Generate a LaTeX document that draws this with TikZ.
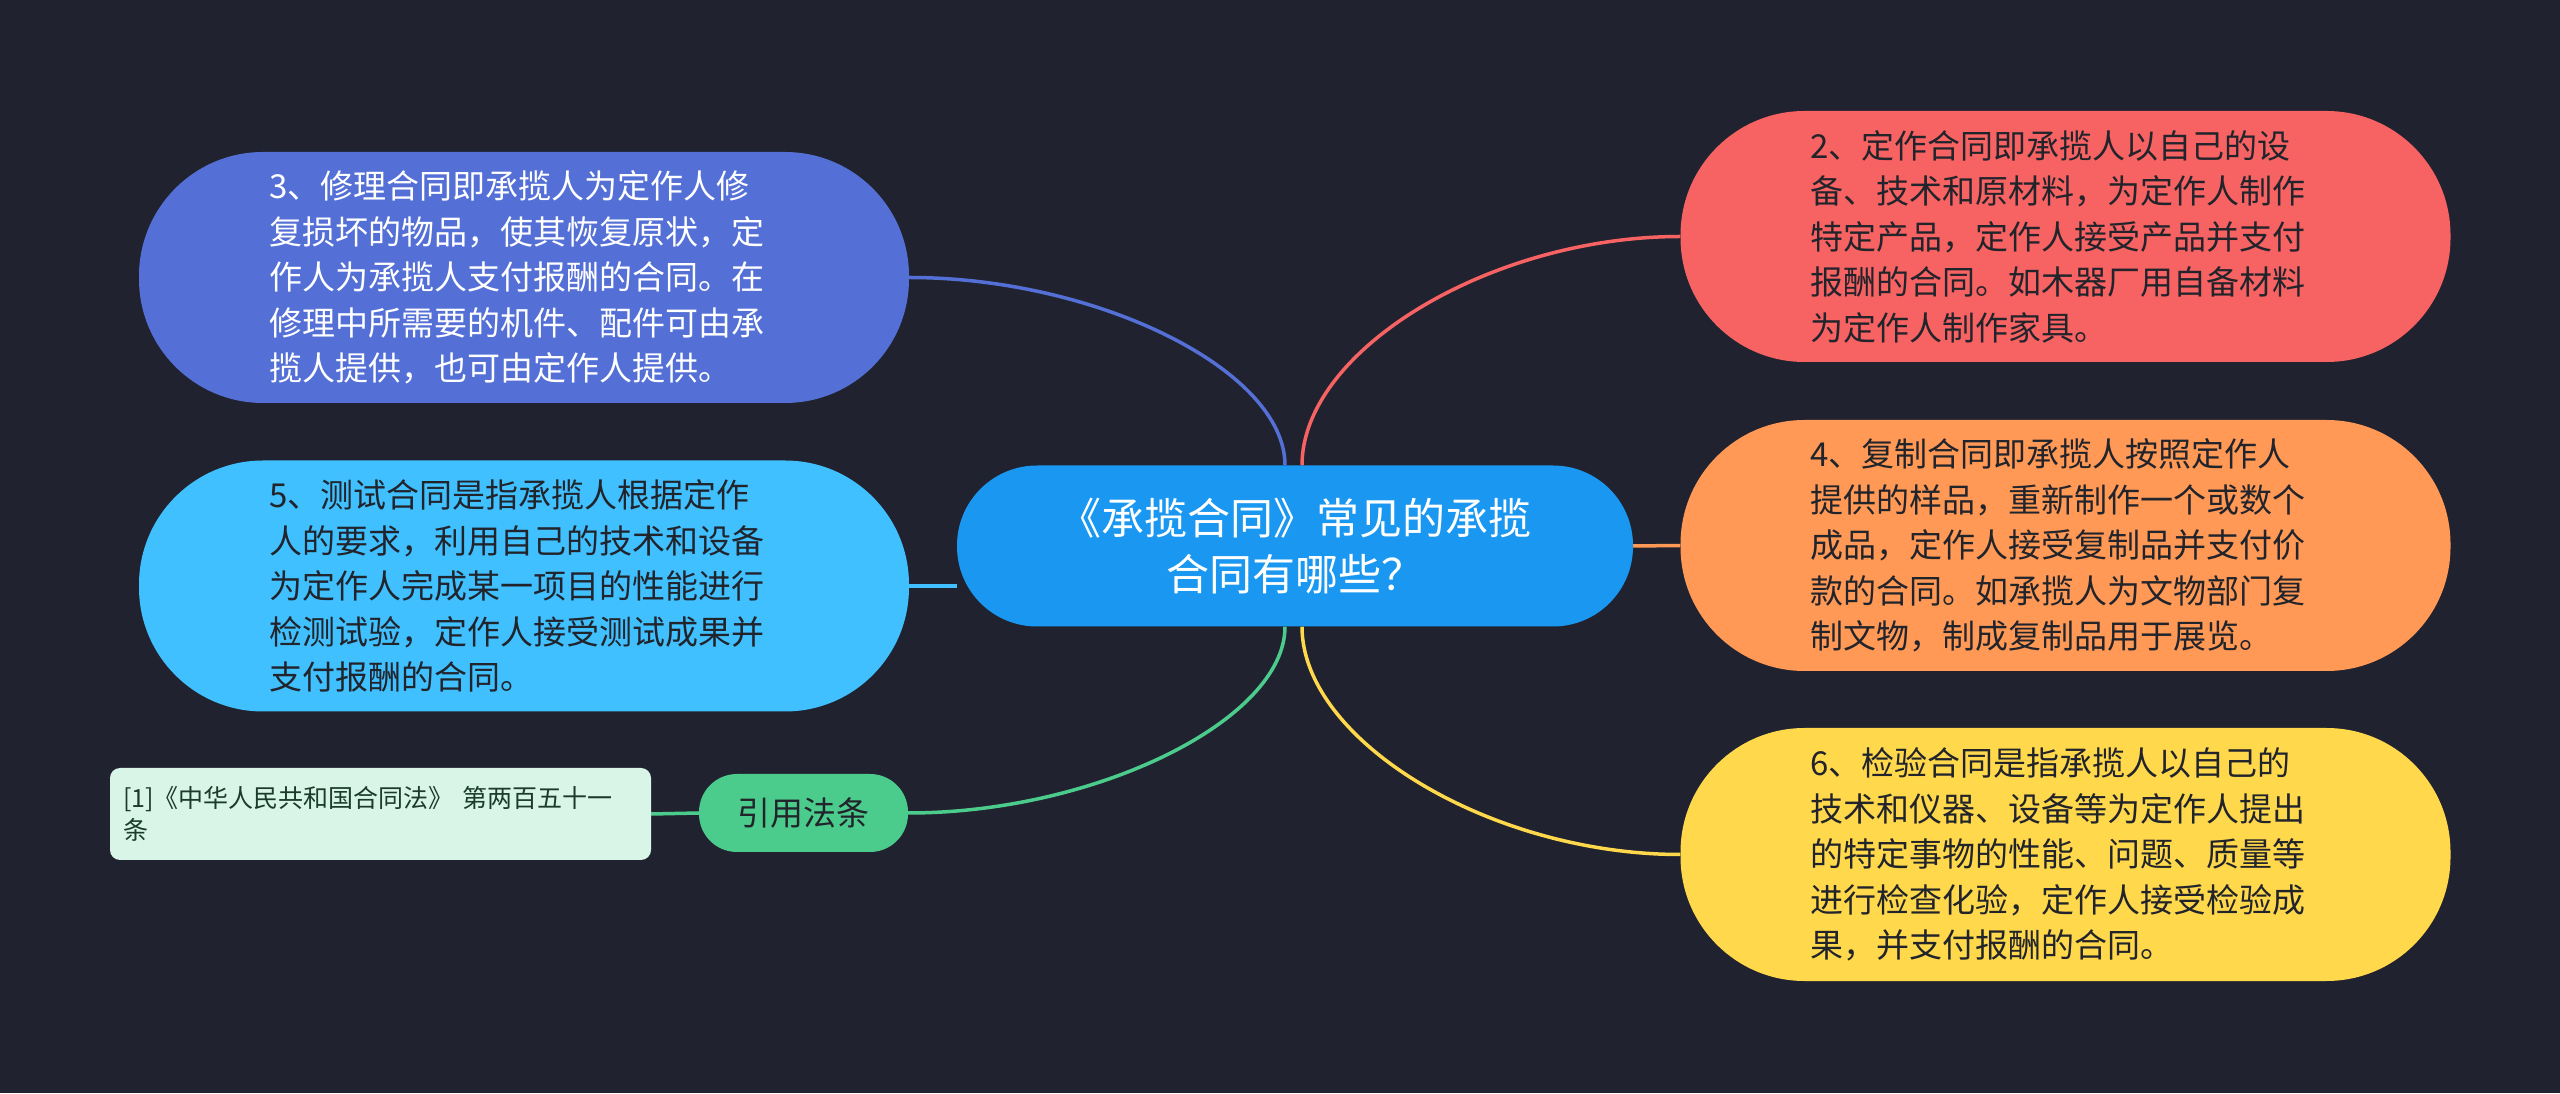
\documentclass[tikz,border=0pt]{standalone}
\usepackage{fontspec}
\setmainfont{Noto Sans CJK SC}
\pgfdeclarelayer{bg}
\pgfdeclarelayer{lines}
\pgfsetlayers{bg,lines,main}
\definecolor{bgc}{HTML}{20232F}
\definecolor{cblue}{HTML}{1A97F0}
\definecolor{pblue}{HTML}{5470D6}
\definecolor{lblue}{HTML}{40C0FF}
\definecolor{cred}{HTML}{F76262}
\definecolor{corange}{HTML}{FF9955}
\definecolor{cyellow}{HTML}{FFD84B}
\definecolor{cgreen}{HTML}{4CCC8C}
\definecolor{refbg}{HTML}{D9F5E8}
\definecolor{reftext}{HTML}{1B3B2B}
\definecolor{darktext}{HTML}{22242C}
\tikzset{
  topic/.style={rounded corners=124pt, minimum width=770pt, minimum height=251pt,
    text width=510pt, inner xsep=0pt, inner ysep=0pt, align=left,
    font=\fontsize{33}{45.5}\selectfont},
  central/.style={rounded corners=80pt, minimum width=676pt, minimum height=161pt,
    fill=cblue, text=white, align=center, inner sep=0pt,
    font=\fontsize{43}{56}\selectfont},
  refnode/.style={rounded corners=38pt, minimum width=209pt, minimum height=78pt,
    fill=cgreen, text=darktext, inner sep=0pt, font=\fontsize{33}{40}\selectfont},
  refbox/.style={rounded corners=10pt, minimum width=541pt, minimum height=92pt,
    text width=515pt, inner xsep=0pt, inner ysep=0pt, align=left, fill=refbg,
    text=reftext, font=\fontsize{25}{32}\selectfont},
  link/.style={line width=3.5pt}
}
\begin{document}
\begin{tikzpicture}[x=1pt,y=1pt]
\useasboundingbox (0,0) rectangle (2560,1093);
\begin{pgfonlayer}{bg}
\fill[bgc] (0,0) rectangle (2560,1093);
\end{pgfonlayer}

\node[central] (c) at (1295,547) {《承揽合同》常见的承揽\\合同有哪些？};

\node[topic, fill=pblue, text=white] (n3) at (524,815.5)
 {3、修理合同即承揽人为定作人修\\复损坏的物品，使其恢复原状，定\\作人为承揽人支付报酬的合同。在\\修理中所需要的机件、配件可由承\\揽人提供，也可由定作人提供。};
\node[topic, fill=lblue, text=darktext] (n5) at (524,507)
 {5、测试合同是指承揽人根据定作\\人的要求，利用自己的技术和设备\\为定作人完成某一项目的性能进行\\检测试验，定作人接受测试成果并\\支付报酬的合同。};
\node[topic, fill=cred, text=darktext] (n2) at (2065.5,856.5)
 {2、定作合同即承揽人以自己的设\\备、技术和原材料，为定作人制作\\特定产品，定作人接受产品并支付\\报酬的合同。如木器厂用自备材料\\为定作人制作家具。};
\node[topic, fill=corange, text=darktext] (n4) at (2065.5,547.5)
 {4、复制合同即承揽人按照定作人\\提供的样品，重新制作一个或数个\\成品，定作人接受复制品并支付价\\款的合同。如承揽人为文物部门复\\制文物，制成复制品用于展览。};
\node[topic, fill=cyellow, text=darktext, minimum height=253pt] (n6) at (2065.5,238.5)
 {6、检验合同是指承揽人以自己的\\技术和仪器、设备等为定作人提出\\的特定事物的性能、问题、质量等\\进行检查化验，定作人接受检验成\\果，并支付报酬的合同。};
\node[refnode] (ref) at (803.5,280) {引用法条};
\node[refbox] (rb) at (380.5,279) {[1]《中华人民共和国合同法》 第两百五十一\\条};

\coordinate (cTL) at ([xshift=-10pt]c.north);
\coordinate (cTR) at ([xshift=7pt]c.north);
\coordinate (cBL) at ([xshift=-10pt]c.south);
\coordinate (cBR) at ([xshift=7pt]c.south);

\begin{pgfonlayer}{lines}
\draw[link, pblue] (cTL) .. controls +(0,95) and +(188,0) .. (n3.east);
\draw[link, cred] (cTR) .. controls +(0,115) and +(-190,0) .. (n2.west);
\draw[link, lblue] (n5.east) -- (n5.east -| c.west);
\draw[link, corange] (c.east) -- (n4.west);
\draw[link, cgreen] (cBL) .. controls +(0,-93) and +(188,0) .. (ref.east);
\draw[link, cyellow] (cBR) .. controls +(0,-114) and +(-190,0) .. (n6.west);
\draw[link, cgreen] (ref.west) -- (rb.east);
\end{pgfonlayer}
\end{tikzpicture}
\end{document}
